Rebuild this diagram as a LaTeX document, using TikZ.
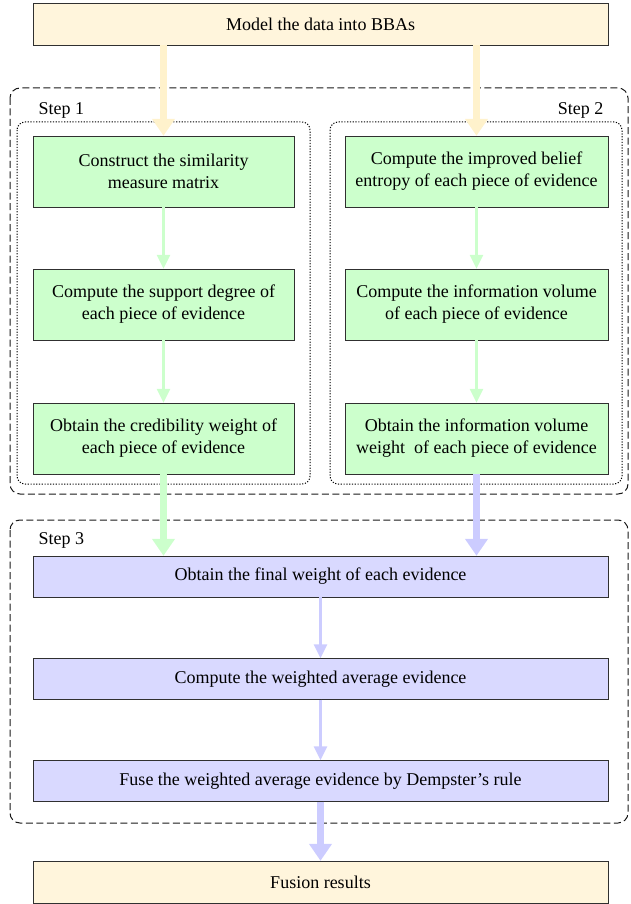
\documentclass[tikz,border=0pt]{standalone}
\usepackage{fontspec}
\setmainfont{Liberation Serif}
\usetikzlibrary{arrows.meta,positioning}

\definecolor{ioFill}{HTML}{FFF5DC}
\definecolor{ioArrow}{HTML}{FFF2CC}
\definecolor{stepFill}{HTML}{CCFFCC}
\definecolor{finalFill}{HTML}{D9D9FF}
\definecolor{finalArrow}{HTML}{CCCCFF}
\definecolor{boxLine}{HTML}{303030}

\tikzset{
  iobox/.style={draw=boxLine, fill=ioFill, minimum width=575pt, minimum height=42pt},
  greenbox/.style={draw=boxLine, fill=stepFill, minimum width=261pt, minimum height=71pt, align=center},
  bluebox/.style={draw=boxLine, fill=finalFill, minimum width=575pt, minimum height=41pt},
  bigarrow/.style={line width=7pt, -{Triangle[width=22pt,length=17pt]}},
  smallarrow/.style={line width=3pt, -{Triangle[width=13pt,length=14pt]}},
  stepframe/.style={draw=black!90, line width=1pt, dash pattern=on 7pt off 3.5pt, rounded corners=10pt},
  subframe/.style={draw=black, line width=1pt, dash pattern=on 1.2pt off 1.6pt, rounded corners=8pt},
}

\begin{document}
\begin{tikzpicture}[x=1pt, y=-1pt, font=\fontsize{18}{22}\selectfont]
    \useasboundingbox (0,0) rectangle (630,904);

    % frames
    \draw[stepframe] (10,88) rectangle (628,494);
    \draw[stepframe] (10,520) rectangle (628,823);
    \draw[subframe] (17,122) rectangle (310,484);
    \draw[subframe] (330,122) rectangle (622,484);
    \node (s1) [anchor=west] at (35,110) {Step 1};
    \node (s2) [anchor=east] at (607,110) {Step 2};
    \node (s3) [anchor=west] at (35,540) {Step 3};

    % input and output
    \node (bba) [iobox] at (320.5,24) {Model the data into BBAs};
    \node (fus) [iobox] at (320.5,882) {Fusion results};

    % step 1
    \node (sim) [greenbox] at (163.5,171.5) {Construct the similarity\\measure matrix};
    \node (sup) [greenbox] at (163.5,304.5) {Compute the support degree of\\each piece of evidence};
    \node (cred) [greenbox] at (163.5,438.5) {Obtain the credibility weight of\\each piece of evidence};

    % step 2
    \node (ent) [greenbox, minimum width=263pt] at (476.5,171.5) {Compute the improved belief\\entropy of each piece of evidence};
    \node (vol) [greenbox, minimum width=263pt] at (476.5,304.5) {Compute the information volume\\of each piece of evidence};
    \node (volw) [greenbox, minimum width=263pt] at (476.5,438.5) {Obtain the information volume\\weight\ \ of each piece of evidence};

    % step 3
    \node (fin) [bluebox] at (320.5,576.5) {Obtain the final weight of each evidence};
    \node (avg) [bluebox] at (320.5,679) {Compute the weighted average evidence};
    \node (dem) [bluebox] at (320.5,781) {Fuse the weighted average evidence by Dempster's rule};

    % arrows
    \draw[bigarrow, ioArrow] (bba.south -| sim.north) -- (sim.north);
    \draw[bigarrow, ioArrow] (bba.south -| ent.north) -- (ent.north);
    \draw[smallarrow, stepFill] (sim) -- (sup);
    \draw[smallarrow, stepFill] (sup) -- (cred);
    \draw[smallarrow, stepFill] (ent) -- (vol);
    \draw[smallarrow, stepFill] (vol) -- (volw);
    \draw[bigarrow, stepFill] (cred.south) -- (fin.north -| cred.south);
    \draw[bigarrow, finalArrow] (volw.south) -- (fin.north -| volw.south);
    \draw[smallarrow, finalArrow] (fin) -- (avg);
    \draw[smallarrow, finalArrow] (avg) -- (dem);
    \draw[bigarrow, finalArrow] (dem) -- (fus);
\end{tikzpicture}
\end{document}
